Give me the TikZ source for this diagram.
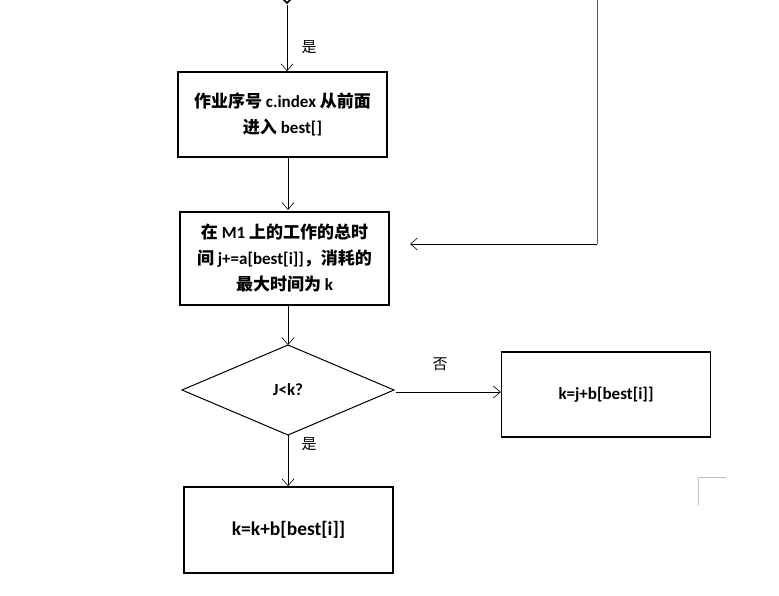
\documentclass[tikz,border=0pt]{standalone}
\usepackage{fontspec}
\setmainfont{Carlito}
\newfontfamily\cjk{Noto Sans CJK SC}
\usetikzlibrary{arrows.meta}
\begin{document}
\begin{tikzpicture}[x=1pt,y=-1pt,
  box/.style={draw,line width=1.5pt,minimum width=209pt,align=center,font=\bfseries\fontsize{17}{26}\selectfont},
  arr/.style={-{Straight Barb[length=7pt,width=12pt]},line width=0.6pt},
  lab/.style={font=\cjk\fontsize{15}{17}\selectfont}]
\useasboundingbox (0,0) rectangle (779,596);
\begin{scope}
\clip (0,0) rectangle (779,596);
\draw[line width=1.5pt] (278,-6) -- (287,3) -- (296,-6);
\end{scope}
\coordinate (t0) at (287,5);
\node[box,minimum height=85pt] (b1) at (282.5,114.5) {{\cjk 作业序号} c.index {\cjk 从前面}\\{\cjk 进入} best[]};
\node[box,minimum height=93pt] (b2) at (284.5,258.5) {{\cjk 在} M1 {\cjk 上的工作的总时}\\{\cjk 间} j+=a[best[i]]{\cjk ，消耗的}\\{\cjk 最大时间为} k};
\draw[line width=1pt] (182,390) coordinate (dl) -- (288,345) coordinate (dt) -- (394,390) coordinate (dr) -- (288,435) coordinate (db) -- cycle;
\node[font=\bfseries\fontsize{17}{19}\selectfont] (d) at (288,390) {J<k?};
\node[box,minimum height=85pt] (b3) at (606,394.5) {k=j+b[best[i]]};
\node[box,minimum height=86pt,font=\bfseries\fontsize{19.5}{22}\selectfont] (b4) at (288.5,530) {k=k+b[best[i]]};
\draw[arr] (t0) -- (b1.north -| t0);
\node[lab] (y1) at (309,47) {是};
\draw[arr] (288,157) -- (288,210);
\coordinate (r0) at (597,0);
\coordinate (r1) at (597,244);
\draw[line width=0.8pt,gray!70!black] (r0) -- (r1);
\draw[arr] (r1) -- (410,244);
\draw[arr] (b2.south -| dt) -- (dt);
\draw[arr] (396,392) -- (b3.west |- 0,392);
\node[lab] (n1) at (440,364) {否};
\draw[arr] (db) -- (b4.north -| db);
\node[lab] (y2) at (309,444) {是};
\coordinate (c0) at (698,505);
\coordinate (c1) at (698,477);
\coordinate (c2) at (726,477);
\draw[gray!50,line width=0.6pt] (c0) -- (c1) -- (c2);
\end{tikzpicture}
\end{document}
